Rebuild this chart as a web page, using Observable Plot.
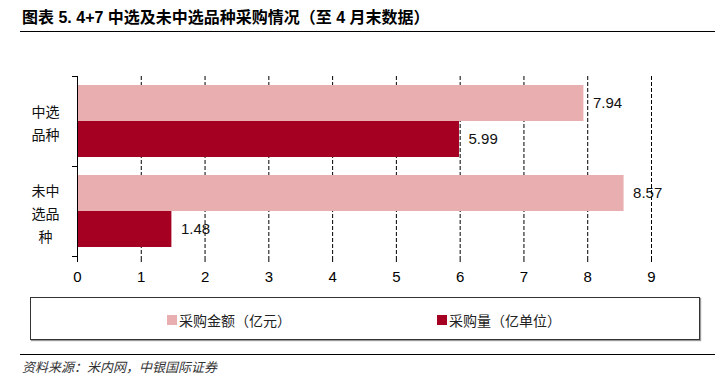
<!DOCTYPE html>
<html>
<head>
<meta charset="utf-8">
<script src="https://cdn.jsdelivr.net/npm/d3@7"></script>
<script src="https://cdn.jsdelivr.net/npm/@observablehq/plot@0.6"></script>
<style>
  html, body { margin: 0; padding: 0; background: #fff; }
  body { width: 715px; height: 380px; position: relative; overflow: hidden; font-family: "Liberation Sans", Arial, "Noto Sans CJK SC", sans-serif; }
  #title { position: absolute; left: 20px; top: 0; width: 695px; height: 32px; border-bottom: 1.5px solid #000;
           font-family: "Liberation Sans", "Noto Sans CJK SC", sans-serif; font-weight: bold; font-size: 16px; line-height: 36px; padding-left: 2px; box-sizing: border-box; }
  #chart { position: absolute; left: 0; top: 34px; }
  #legend { position: absolute; left: 30px; top: 297px; width: 670px; height: 43px; border: 1px solid #333; box-shadow: 1px 1px 1px #999; box-sizing: border-box; }
  .item { position: absolute; top: 12px; font-size: 14px; font-family: "Noto Sans CJK SC", sans-serif; color: #222; display: flex; align-items: center; }
  .sw { width: 10px; height: 10px; margin-right: 2px; }
  #rule { position: absolute; left: 20px; top: 354px; width: 695px; border-top: 1px solid #000; }
  #source { position: absolute; left: 22px; top: 357px; font-size: 13px; font-style: italic; color: #333; font-family: "Noto Sans CJK SC", sans-serif; }
</style>
</head>
<body>
<div id="title">图表 5. 4+7 中选及未中选品种采购情况（至 4 月末数据）</div>
<div id="chart"></div>
<div id="legend"></div>
<div id="rule"></div>
<div id="source">资料来源：米内网，中银国际证券</div>
<script>
const categories = ["中选品种", "未中选品种"];
const categoryLabels = ["中选\n品种", "未中\n选品\n种"];
const series = ["采购金额（亿元）", "采购量（亿单位）"];
const amountValues = [7.94, 8.57];
const volumeValues = [5.99, 1.48];
const xTicks = [0, 1, 2, 3, 4, 5, 6, 7, 8, 9];
const colors = ["#E8AEB0", "#A50021"];

const data = categories.flatMap((c, i) => [
  {cat: c, series: series[0], value: amountValues[i]},
  {cat: c, series: series[1], value: volumeValues[i]}
]);
const labelData = categories.map((c, i) => ({cat: c, label: categoryLabels[i]}));

const W = 715, ML = 77, MR = 64;
const frameW = W - ML - MR;

const chart = Plot.plot({
  width: W,
  height: 262,
  marginTop: 42,
  marginBottom: 40,
  marginLeft: ML,
  marginRight: MR,
  style: {fontFamily: "Liberation Sans, Arial, sans-serif", fontSize: "14px", color: "#000", background: "transparent"},
  x: {domain: [0, 9], ticks: xTicks},
  fy: {domain: categories, padding: 0, axis: null},
  y: {domain: series, paddingInner: 0, paddingOuter: 0.25, axis: null},
  color: {domain: series, range: colors},
  marks: [
    Plot.gridX(xTicks.filter(d => d > 0), {stroke: "#000", strokeOpacity: 1, strokeDasharray: "4,2"}),
    Plot.barX(data, {x: "value", y: "series", fy: "cat", fill: "series"}),
    Plot.text(data, {x: "value", y: "series", fy: "cat", text: d => d.value.toFixed(2), textAnchor: "start", dx: 9, fontSize: 15, fill: "#111"}),
    Plot.text(labelData, {fy: "cat", text: "label", frameAnchor: "left", dx: -32, textAnchor: "middle", lineHeight: 1.65, fontSize: 14, fontFamily: "Noto Sans CJK SC, sans-serif", fill: "#111"}),
    Plot.ruleX([0], {stroke: "#000"}),
    Plot.frame({anchor: "top", insetLeft: -5, insetRight: frameW, stroke: "#000"}),
    Plot.frame({anchor: "bottom", insetLeft: -5, insetRight: frameW, stroke: "#000"}),
    Plot.axisX(xTicks, {anchor: "bottom", tickSize: 6, tickPadding: 9, line: true, label: null, fontSize: 15, stroke: "#000"})
  ]
});
document.getElementById("chart").appendChild(chart);

const legend = document.getElementById("legend");
const legendX = [136, 406];
series.forEach((s, i) => {
  const item = document.createElement("div");
  item.className = "item";
  item.style.left = legendX[i] + "px";
  item.innerHTML = `<span class="sw" style="background:${colors[i]}"></span><span>${s}</span>`;
  legend.appendChild(item);
});
</script>
</body>
</html>
